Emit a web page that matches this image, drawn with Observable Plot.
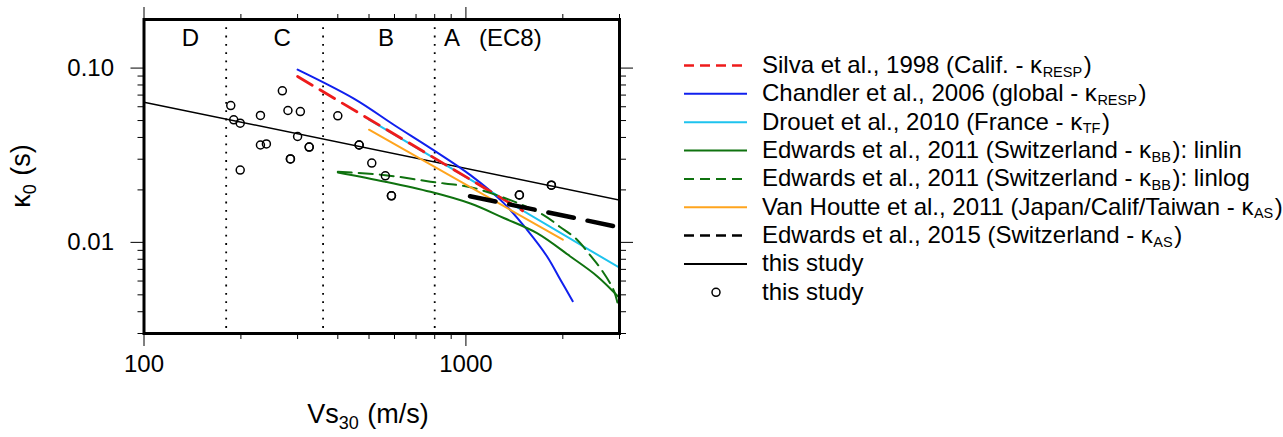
<!DOCTYPE html>
<html>
<head>
<meta charset="utf-8">
<script src="https://cdn.jsdelivr.net/npm/d3@7"></script>
<script src="https://cdn.jsdelivr.net/npm/@observablehq/plot@0.6"></script>
<style>
  html, body { margin: 0; padding: 0; background: #fff; }
  #chart svg { display: block; font-family: "Liberation Sans", Arial, Helvetica, sans-serif; }
</style>
</head>
<body>
<div id="chart"></div>
<script>
// ---------------- data ----------------
const xDomain = [100, 3000];
const yDomain = [0.003, 0.19];

const xMajorTicks = [100, 1000];
const xMinorTicks = [200, 300, 400, 500, 600, 700, 800, 900, 2000, 3000];
const yMajorTicks = [0.01, 0.1];
const yMajorLabels = ["0.01", "0.10"];
const yMinorTicks = [0.003, 0.004, 0.005, 0.006, 0.007, 0.008, 0.009, 0.02, 0.03, 0.04, 0.05, 0.06, 0.07, 0.08, 0.09];

// EC8 site-class boundaries and labels
const ec8Bounds = [180, 360, 800];
const ec8Labels = ["D", "C", "B", "A", "(EC8)"];
const ec8LabelVs = [139.5, 268.5, 565, 906, 1374];
const ec8LabelKappa = 0.149;

// Silva et al., 1998
const silvaVs = [300, 1500];
const silvaK = [0.0895, 0.0152];
// Chandler et al., 2006
const chandlerVs = [300, 450, 600, 780, 1033, 1311, 1549, 1787, 1966, 2147];
const chandlerK = [0.098, 0.0666, 0.047, 0.0345, 0.0243, 0.0168, 0.0118, 0.0083, 0.0061, 0.0046];
// Drouet et al., 2010
const drouetVs = [500, 3000];
const drouetK = [0.0506, 0.00715];
// Edwards et al., 2011 linlin
const edLinlinVs = [400, 562, 776, 1033, 1311, 1663, 2111, 2556, 3000];
const edLinlinK = [0.0252, 0.0223, 0.0195, 0.0167, 0.0138, 0.0113, 0.0083, 0.0064, 0.0048];
// Edwards et al., 2011 linlog
const edLinlogVs = [400, 562, 776, 1033, 1349, 1738, 1956, 2203, 2449, 2633, 2879, 3000];
const edLinlogK = [0.0254, 0.0243, 0.0223, 0.0207, 0.0177, 0.0144, 0.0123, 0.01045, 0.0083, 0.0070, 0.0053, 0.0040];
// Van Houtte et al., 2011
const vanHoutteVs = [500, 2000];
const vanHoutteK = [0.0443, 0.01036];
// Edwards et al., 2015
const ed2015Vs = [1030, 3000];
const ed2015K = [0.0184, 0.0122];
// this study: regression line
const studyLineVs = [100, 3000];
const studyLineK = [0.0637, 0.0175];
// this study: station values
const stationVs = [186, 190, 199, 199, 230, 230, 240, 269, 280, 285, 285, 306, 300, 326, 326, 400, 466, 466, 510, 562, 587, 587, 1466, 1466, 1843, 1843];
const stationK = [0.0609, 0.0505, 0.0483, 0.026, 0.0535, 0.0362, 0.0367, 0.074, 0.0571, 0.0301, 0.0301, 0.0563, 0.0405, 0.0352, 0.0352, 0.0532, 0.0362, 0.0362, 0.0285, 0.0241, 0.0185, 0.0185, 0.0187, 0.0187, 0.0213, 0.0213];

// legend
const legendMain = [
  "Silva et al., 1998 (Calif. - κ",
  "Chandler et al., 2006 (global - κ",
  "Drouet et al., 2010 (France - κ",
  "Edwards et al., 2011 (Switzerland - κ",
  "Edwards et al., 2011 (Switzerland - κ",
  "Van Houtte et al., 2011 (Japan/Calif/Taiwan - κ",
  "Edwards et al., 2015 (Switzerland - κ",
  "this study",
  "this study"
];
const legendSub = ["RESP", "RESP", "TF", "BB", "BB", "AS", "AS", "", ""];
const legendTail = [")", ")", ")", "): linlin", "): linlog", ")", ")", "", ""];

// ---------------- styles ----------------
const C = {
  red: "#ee1b1b", blue: "#1020ee", cyan: "#1ec3ee", green: "#0f720f",
  orange: "#ffa51e", black: "#000"
};
const styles = [
  {stroke: C.red, strokeWidth: 2.8, dash: "17,9", legendDash: "10,6"},
  {stroke: C.blue, strokeWidth: 2, dash: null, legendDash: null},
  {stroke: C.cyan, strokeWidth: 2, dash: null, legendDash: null},
  {stroke: C.green, strokeWidth: 2, dash: null, legendDash: null},
  {stroke: C.green, strokeWidth: 2, dash: "14,7", legendDash: "10,6"},
  {stroke: C.orange, strokeWidth: 2, dash: null, legendDash: null},
  {stroke: C.black, strokeWidth: 4.5, dash: "26,14", legendDash: "10,6"},
  {stroke: C.black, strokeWidth: 1.5, dash: null, legendDash: null}
];

const pts = (xs, ys) => xs.map((v, i) => ({v, k: ys[i]}));
const line = (xs, ys, s) => Plot.line(pts(xs, ys), {
  x: "v", y: "k", stroke: s.stroke, strokeWidth: s.strokeWidth,
  strokeDasharray: s.dash || undefined, clip: true, curve: "catmull-rom"
});

const W = 1283, H = 437;
const svg = Plot.plot({
  width: W, height: H,
  marginLeft: 143.5, marginRight: W - 619, marginTop: 19, marginBottom: H - 333,
  style: {fontFamily: '"Liberation Sans", Arial, Helvetica, sans-serif', fontSize: "24px", color: "black", background: "white"},
  x: {type: "log", domain: xDomain, label: null},
  y: {type: "log", domain: yDomain, label: null},
  marks: [
    Plot.ruleX(ec8Bounds, {stroke: "black", strokeWidth: 1.8, strokeDasharray: "1.8,6.5"}),
    Plot.text(ec8Labels, {x: (d, i) => ec8LabelVs[i], y: () => ec8LabelKappa, text: d => d, fontSize: 24, fill: "black"}),
    line(studyLineVs, studyLineK, styles[7]),
    line(chandlerVs, chandlerK, styles[1]),
    line(drouetVs, drouetK, styles[2]),
    line(silvaVs, silvaK, styles[0]),
    line(edLinlinVs, edLinlinK, styles[3]),
    line(edLinlogVs, edLinlogK, styles[4]),
    line(vanHoutteVs, vanHoutteK, styles[5]),
    line(ed2015Vs, ed2015K, styles[6]),
    Plot.dot(pts(stationVs, stationK), {x: "v", y: "k", r: 4, stroke: "black", strokeWidth: 1.5, fill: "none"}),
    // axes
    Plot.axisX(xMajorTicks, {anchor: "bottom", tickSize: 13, tickPadding: 8, fontSize: 24, tickFormat: d => String(d), label: null}),
    Plot.axisX(xMinorTicks, {anchor: "bottom", tickSize: 6, tickFormat: () => "", label: null}),
    Plot.axisX(xMajorTicks, {anchor: "top", tickSize: 13, tickFormat: () => "", label: null}),
    Plot.axisX(xMinorTicks, {anchor: "top", tickSize: 6, tickFormat: () => "", label: null}),
    Plot.axisY(yMajorTicks, {anchor: "left", tickSize: 13, tickPadding: 17, fontSize: 24, tickFormat: d => yMajorLabels[yMajorTicks.indexOf(d)], label: null}),
    Plot.axisY(yMinorTicks, {anchor: "left", tickSize: 6, tickFormat: () => "", label: null}),
    Plot.axisY(yMajorTicks, {anchor: "right", tickSize: 13, tickFormat: () => "", label: null}),
    Plot.axisY(yMinorTicks, {anchor: "right", tickSize: 6, tickFormat: () => "", label: null}),
    Plot.frame({stroke: "black", strokeWidth: 3})
  ]
});
document.getElementById("chart").appendChild(svg);

// ---------------- axis titles (with subscripts) ----------------
const s = d3.select(svg);
const font = '"Liberation Sans", Arial, Helvetica, sans-serif';
const xt = s.append("text").attr("x", 368).attr("y", 423).attr("text-anchor", "middle")
  .attr("font-family", font).attr("font-size", 27).attr("fill", "black");
xt.append("tspan").text("Vs");
xt.append("tspan").attr("font-size", 18).attr("dy", 6).text("30");
xt.append("tspan").attr("dy", -6).attr("dx", 1).text(" (m/s)");

const yt = s.append("text").attr("transform", "translate(30,176) rotate(-90)").attr("text-anchor", "middle")
  .attr("font-family", font).attr("font-size", 27).attr("fill", "black");
yt.append("tspan").text("κ");
yt.append("tspan").attr("font-size", 18).attr("dy", 6).text("0");
yt.append("tspan").attr("dy", -6).attr("dx", 1).text(" (s)");

// ---------------- legend ----------------
const lg = s.append("g").attr("font-family", font).attr("font-size", 24).attr("fill", "black")
  .attr("text-anchor", "start");
const x0 = 684, x1 = 747, tx = 762, base0 = 73, step = 28.35;
legendMain.forEach((name, i) => {
  const by = base0 + i * step;
  const ly = by - 7.5;
  if (i < 8) {
    const st = styles[i];
    lg.append("line").attr("x1", x0).attr("x2", x1).attr("y1", ly).attr("y2", ly)
      .attr("stroke", st.stroke).attr("stroke-width", (i === 6 || i === 0) ? 2.5 : 2)
      .attr("stroke-dasharray", st.legendDash);
  } else {
    lg.append("circle").attr("cx", 716).attr("cy", ly).attr("r", 4)
      .attr("fill", "none").attr("stroke", "black").attr("stroke-width", 1.5);
  }
  const t = lg.append("text").attr("x", tx).attr("y", by).attr("text-anchor", "start");
  t.append("tspan").text(name);
  if (legendSub[i]) {
    t.append("tspan").attr("font-size", 14.5).attr("dy", 3.6).attr("dx", 0.5).text(legendSub[i]);
    t.append("tspan").attr("dy", -3.6).attr("dx", 1.5).text(legendTail[i]);
  }
});
</script>
</body>
</html>
